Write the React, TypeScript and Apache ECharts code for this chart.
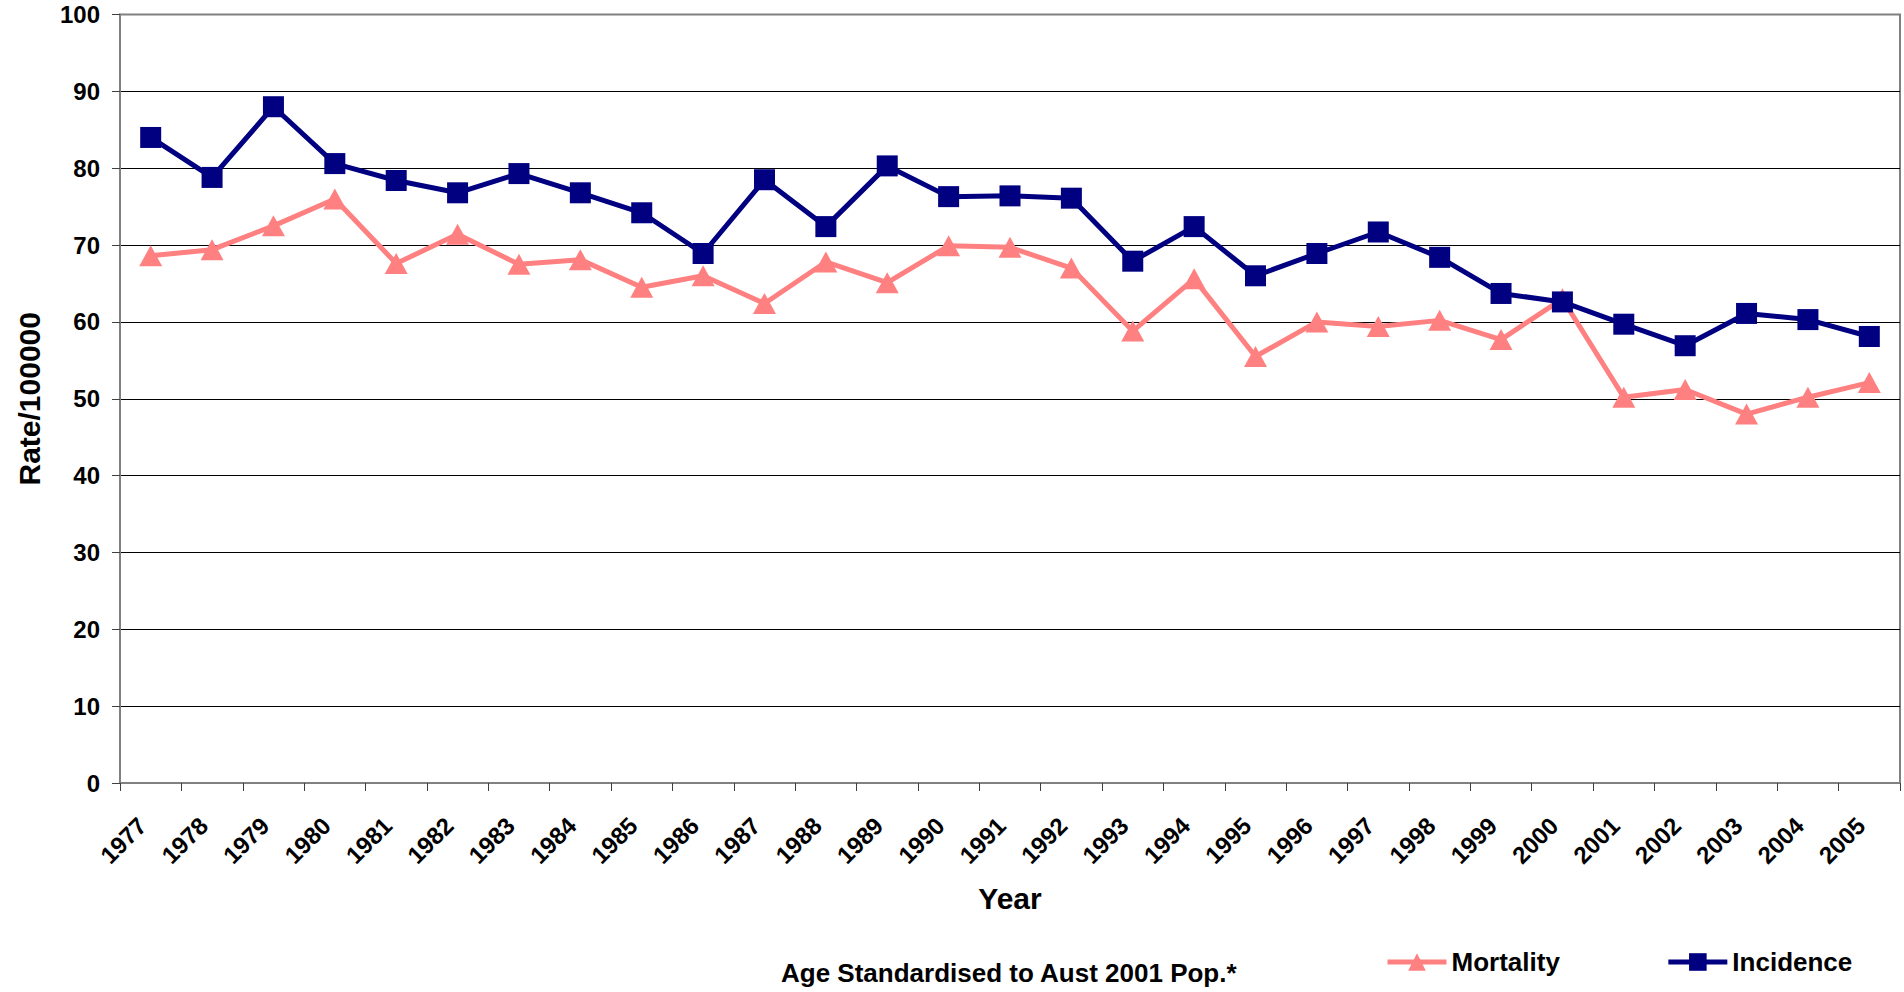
import React, { useEffect, useRef } from "react";
import * as echarts from "echarts";

const years = [
  "1977", "1978", "1979", "1980", "1981", "1982", "1983", "1984", "1985", "1986",
  "1987", "1988", "1989", "1990", "1991", "1992", "1993", "1994", "1995", "1996",
  "1997", "1998", "1999", "2000", "2001", "2002", "2003", "2004", "2005",
];

const mortality = [
  68.6, 69.4, 72.5, 76.0, 67.6, 71.4, 67.5, 68.1, 64.5, 66.0,
  62.4, 67.8, 65.1, 69.9, 69.7, 67.0, 58.8, 65.6, 55.5, 60.0,
  59.4, 60.2, 57.7, 63.0, 50.2, 51.2, 48.0, 50.2, 52.1,
];

const incidence = [
  84.0, 78.8, 88.0, 80.6, 78.4, 76.8, 79.3, 76.8, 74.2, 68.9,
  78.5, 72.4, 80.3, 76.3, 76.4, 76.1, 67.9, 72.4, 66.0, 68.9,
  71.7, 68.4, 63.7, 62.6, 59.7, 56.9, 61.1, 60.3, 58.1,
];

const yMin = 0;
const yMax = 100;
const yInterval = 10;

const FONT = "'Liberation Sans', Arial, Helvetica, sans-serif";
const PINK = "#FF8080";
const NAVY = "#000080";

export default function App() {
  const ref = useRef<HTMLDivElement>(null);

  useEffect(() => {
    if (!ref.current) return;
    const chart = echarts.init(ref.current, null, { renderer: "svg" });
    const splitColors: string[] = [];
    for (let v = yMin; v <= yMax; v += yInterval) {
      splitColors.push(v === yMax || v === yMin ? "#808080" : "#000000");
    }
    chart.setOption({
      animation: false,
      backgroundColor: "#ffffff",
      textStyle: { fontFamily: FONT },
      grid: {
        left: 120,
        right: 4,
        top: 14.5,
        bottom: 209,
        containLabel: false,
        show: true,
        borderColor: "#808080",
        borderWidth: 2,
        backgroundColor: "transparent",
      },
      legend: {
        left: 1385,
        top: 949,
        padding: 0,
        itemWidth: 59,
        itemHeight: 22,
        itemGap: 106,
        lineStyle: { width: 5 },
        textStyle: {
          fontFamily: FONT,
          fontWeight: "bold",
          fontSize: 26,
          color: "#000",
        },
        data: ["Mortality", "Incidence"],
      },
      xAxis: {
        type: "category",
        data: years,
        boundaryGap: true,
        axisLine: { show: true, lineStyle: { color: "#808080", width: 2 } },
        axisTick: {
          show: true,
          alignWithLabel: false,
          length: 8,
          lineStyle: { color: "#404040", width: 1 },
        },
        axisLabel: {
          rotate: 45,
          interval: 0,
          margin: 30,
          padding: [0, 12, 0, 0],
          fontFamily: FONT,
          fontWeight: "bold",
          fontSize: 24,
          color: "#000",
        },
        name: "Year",
        nameLocation: "middle",
        nameGap: 100,
        nameTextStyle: {
          fontFamily: FONT,
          fontWeight: "bold",
          fontSize: 30,
          color: "#000",
        },
        splitLine: { show: false },
      },
      yAxis: {
        type: "value",
        min: yMin,
        max: yMax,
        interval: yInterval,
        axisLine: { show: true, lineStyle: { color: "#808080", width: 2 } },
        axisTick: { show: true, length: 8, lineStyle: { color: "#404040", width: 1 } },
        axisLabel: {
          margin: 20,
          fontFamily: FONT,
          fontWeight: "bold",
          fontSize: 24,
          color: "#000",
        },
        splitLine: { show: true, lineStyle: { color: splitColors, width: 1 } },
        name: "Rate/100000",
        nameLocation: "middle",
        nameRotate: 90,
        nameGap: 76,
        nameTextStyle: {
          fontFamily: FONT,
          fontWeight: "bold",
          fontSize: 30,
          color: "#000",
        },
      },
      graphic: [
        {
          type: "text",
          left: 781,
          top: 960,
          style: {
            text: "Age Standardised to Aust 2001 Pop.*",
            font: `bold 26px ${FONT}`,
            fill: "#000",
          },
        },
      ],
      series: [
        {
          name: "Mortality",
          type: "line",
          data: mortality,
          symbol: "triangle",
          symbolSize: [23, 21],
          showAllSymbol: true,
          lineStyle: { color: PINK, width: 5 },
          itemStyle: { color: PINK },
          z: 2,
        },
        {
          name: "Incidence",
          type: "line",
          data: incidence,
          symbol: "rect",
          symbolSize: 21,
          showAllSymbol: true,
          lineStyle: { color: NAVY, width: 5 },
          itemStyle: { color: NAVY },
          z: 3,
        },
      ],
    });
    return () => chart.dispose();
  }, []);

  return (
    <div
      ref={ref}
      style={{ position: "fixed", left: 0, top: 0, width: 1904, height: 992 }}
    />
  );
}
